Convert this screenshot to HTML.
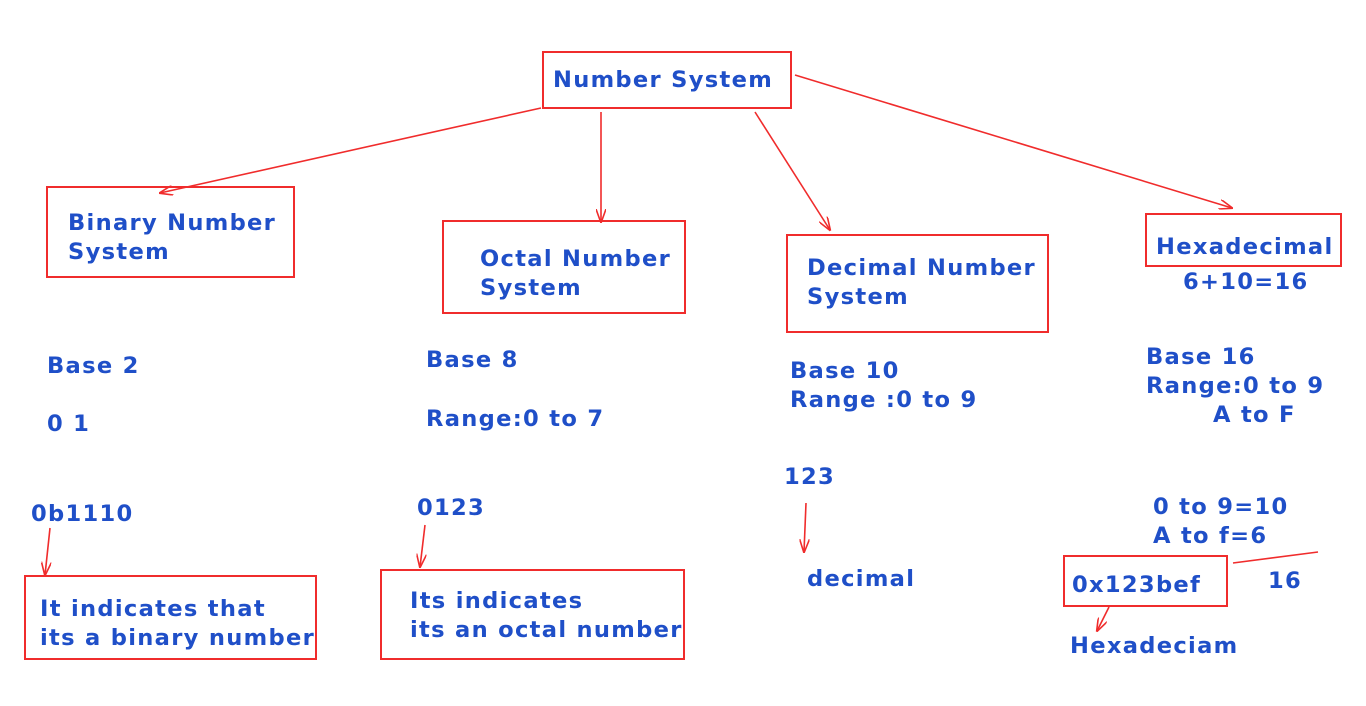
<!DOCTYPE html>
<html><head><meta charset="utf-8"><style>
html,body{margin:0;padding:0;background:#fff;width:1366px;height:706px;overflow:hidden}
svg{display:block}
text{font-family:"DejaVu Sans","Liberation Sans",sans-serif;font-weight:bold;font-size:22.6px;fill:#1f4fc8;letter-spacing:1.3px}
.b{fill:none;stroke:#f02c2c;stroke-width:2}
.l{stroke:#f02c2c;stroke-width:1.6;fill:none}
</style></head><body>
<svg width="1366" height="706" viewBox="0 0 1366 706">
<defs><marker id="a" markerWidth="14" markerHeight="10" refX="13" refY="5" orient="auto" markerUnits="userSpaceOnUse"><path d="M0,0 L14,5 L0,10" fill="none" stroke="#f02c2c" stroke-width="1.6"/></marker></defs>
<rect class="b" x="543" y="52" width="248" height="56"/>
<rect class="b" x="47" y="187" width="247" height="90"/>
<rect class="b" x="443" y="221" width="242" height="92"/>
<rect class="b" x="787" y="235" width="261" height="97"/>
<rect class="b" x="1146" y="214" width="195" height="52"/>
<rect class="b" x="25" y="576" width="291" height="83"/>
<rect class="b" x="381" y="570" width="303" height="89"/>
<rect class="b" x="1064" y="556" width="163" height="50"/>
<line class="l" x1="541" y1="108" x2="160" y2="193" marker-end="url(#a)"/>
<line class="l" x1="601" y1="112" x2="601" y2="222" marker-end="url(#a)"/>
<line class="l" x1="755" y1="112" x2="830" y2="230" marker-end="url(#a)"/>
<line class="l" x1="795" y1="75" x2="1232" y2="208" marker-end="url(#a)"/>
<line class="l" x1="50" y1="528" x2="45" y2="575" marker-end="url(#a)"/>
<line class="l" x1="425" y1="525" x2="420" y2="567" marker-end="url(#a)"/>
<line class="l" x1="806" y1="503" x2="804" y2="552" marker-end="url(#a)"/>
<line class="l" x1="1109" y1="607" x2="1097" y2="631" marker-end="url(#a)"/>
<line class="l" x1="1233" y1="563" x2="1318" y2="552"/>
<text x="553" y="87">Number System</text>
<text x="68" y="230">Binary Number</text><text x="68" y="259">System</text>
<text x="480" y="266">Octal Number</text><text x="480" y="295">System</text>
<text x="807" y="275">Decimal Number</text><text x="807" y="304">System</text>
<text x="1156" y="254">Hexadecimal</text>
<text x="1183" y="289">6+10=16</text>
<text x="47" y="373">Base 2</text>
<text x="47" y="431">0 1</text>
<text x="31" y="521">0b1110</text>
<text x="40" y="616">It indicates that</text><text x="40" y="645">its a binary number</text>
<text x="426" y="367">Base 8</text>
<text x="426" y="426">Range:0 to 7</text>
<text x="417" y="515">0123</text>
<text x="410" y="608">Its indicates</text><text x="410" y="637">its an octal number</text>
<text x="790" y="378">Base 10</text>
<text x="790" y="407">Range :0 to 9</text>
<text x="784" y="484">123</text>
<text x="807" y="586">decimal</text>
<text x="1146" y="364">Base 16</text>
<text x="1146" y="393">Range:0 to 9</text>
<text x="1213" y="422">A to F</text>
<text x="1153" y="514">0 to 9=10</text>
<text x="1153" y="543">A to f=6</text>
<text x="1072" y="592">0x123bef</text>
<text x="1268" y="588">16</text>
<text x="1070" y="653">Hexadeciam</text>
</svg>
</body></html>
